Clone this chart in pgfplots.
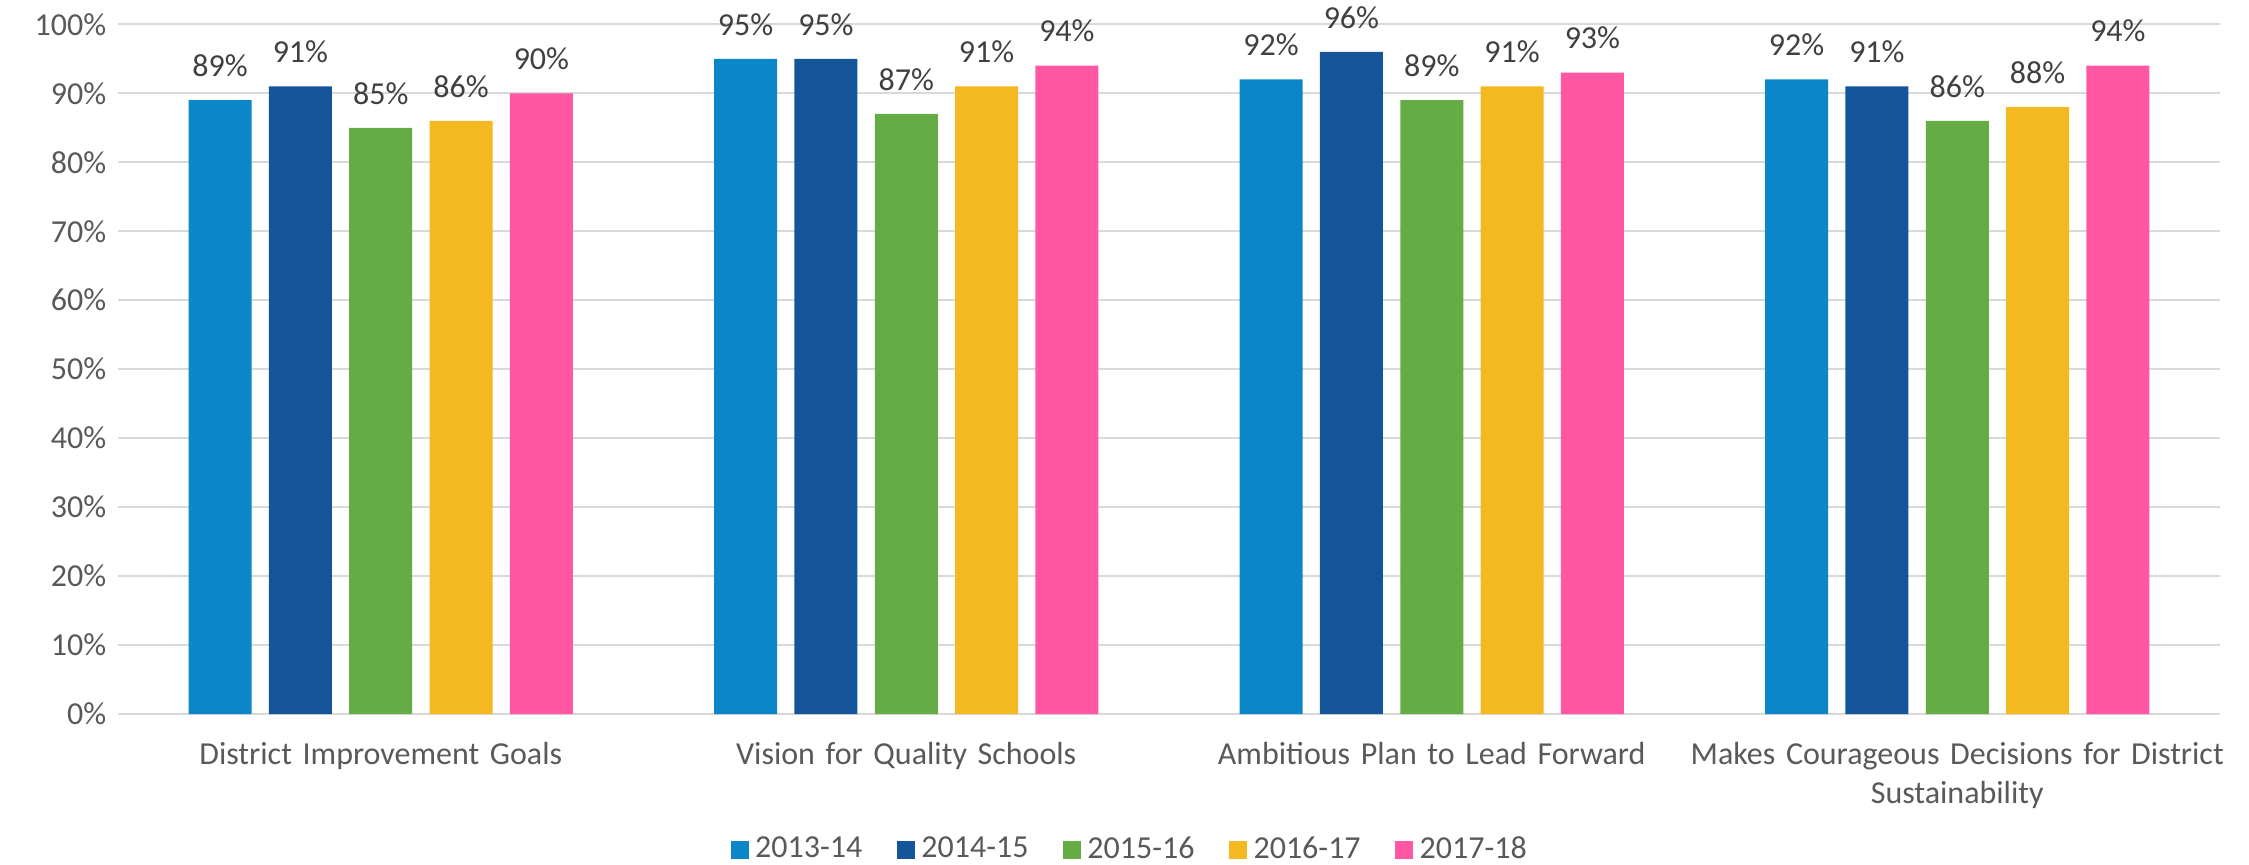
\documentclass[border=0pt]{standalone}
\usepackage{fontspec}
\setmainfont{Carlito}
\usepackage{pgfplots}
\pgfplotsset{compat=1.18}
\definecolor{cA}{HTML}{0B87C9}
\definecolor{cB}{HTML}{145599}
\definecolor{cC}{HTML}{64AC44}
\definecolor{cD}{HTML}{F4B821}
\definecolor{cE}{HTML}{FF57A3}
\definecolor{gridgray}{HTML}{D9D9D9}
\definecolor{txt}{HTML}{595959}
\definecolor{lbl}{HTML}{404040}
\begin{document}
\begin{tikzpicture}
\path[use as bounding box] (-35.4pt,-45.3pt) rectangle (639.3pt,214.2pt);
\begin{axis}[
  at={(0pt,0pt)}, anchor=south west,
  scale only axis, width=630.6pt, height=206.9pt,
  xmin=-0.5, xmax=3.5, ymin=0, ymax=100,
  ybar, bar width=18.9pt,
  xtick={0,1,2,3},
  xticklabels={District Improvement Goals, Vision for Quality Schools, Ambitious Plan to Lead Forward, {Makes Courageous Decisions for District\\Sustainability}},
  xticklabel style={text width=170pt, align=center, font=\fontsize{9.6}{11.6}\selectfont, color=txt, yshift=-5pt},
  ytick={0,10,...,100},
  yticklabel={\pgfmathprintnumber{\tick}\%},
  yticklabel style={font=\fontsize{9.6}{11.5}\selectfont, color=txt},
  /pgf/number format/assume math mode=true,
  ymajorgrids, grid style={color=gridgray, line width=0.6pt},
  axis x line*=bottom, axis y line*=left,
  y axis line style={draw=none},
  x axis line style={color=gridgray, line width=0.8pt, -},
  major tick length=0pt,
  nodes near coords={\pgfmathprintnumber{\pgfplotspointmeta}\%},
  every node near coord/.append style={font=\fontsize{9.6}{11.5}\selectfont, color=lbl, yshift=3.5pt},
  legend columns=5,
  legend style={at={(0.4824,-0.197)}, anchor=center, draw=none, fill=none,
    font=\fontsize{9.6}{11.5}\selectfont, text=txt,
    /tikz/every even column/.append style={column sep=8.3pt}},
  legend image code/.code={\fill[#1] (0pt,-2.7pt) rectangle (5.4pt,2.7pt);},
  clip=false,
]
\addplot[fill=cA, draw=none, bar shift=-48.2pt] coordinates {(0,89) (1,95) (2,92) (3,92)};
\addplot[fill=cB, draw=none, bar shift=-24.1pt] coordinates {(0,91) (1,95) (2,96) (3,91)};
\addplot[fill=cC, draw=none, bar shift=0pt] coordinates {(0,85) (1,87) (2,89) (3,86)};
\addplot[fill=cD, draw=none, bar shift=24.1pt] coordinates {(0,86) (1,91) (2,91) (3,88)};
\addplot[fill=cE, draw=none, bar shift=48.2pt] coordinates {(0,90) (1,94) (2,93) (3,94)};
\legend{2013-14, 2014-15, 2015-16, 2016-17, 2017-18}
\end{axis}
\end{tikzpicture}
\end{document}
